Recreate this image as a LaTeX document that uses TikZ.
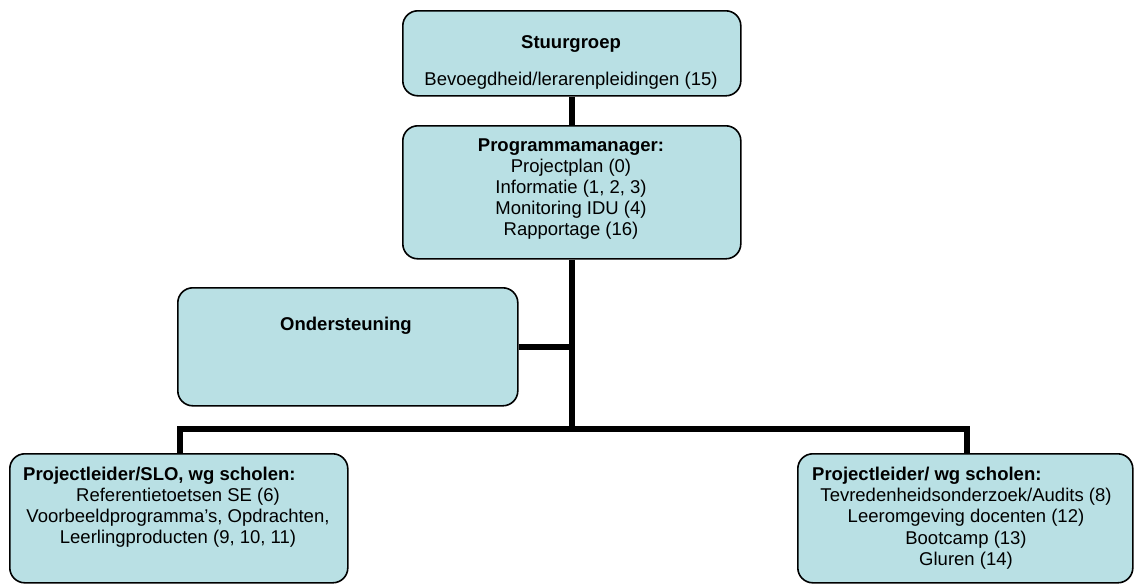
\documentclass[tikz,border=0pt]{standalone}
\usepackage{fontspec}
\setmainfont{Liberation Sans}
\definecolor{boxfill}{RGB}{185,224,228}
\tikzset{
  box/.style={draw=black, line width=1.6pt, rounded corners=15pt, fill=boxfill, inner sep=0pt, anchor=north west},
  conn/.style={line width=6pt, line join=miter},
  txt/.style={anchor=base, inner sep=0pt, font=\fontsize{18.5}{21}\selectfont},
  hd/.style={anchor=base, inner sep=0pt, font=\fontsize{18.5}{21}\selectfont\bfseries},
  hdl/.style={hd, anchor=base west}
}
\begin{document}
\begin{tikzpicture}[x=1pt,y=-1pt]
\useasboundingbox (0,0) rectangle (1134,584);
% boxes
\node[box, minimum width=338pt, minimum height=85pt] (stuur) at (402,10) {};
\node[box, minimum width=338pt, minimum height=133pt] (pm) at (402,125) {};
\node[box, minimum width=340pt, minimum height=118pt] (ond) at (177,287) {};
\node[box, minimum width=338pt, minimum height=129pt] (left) at (9,453) {};
\node[box, minimum width=335pt, minimum height=129pt] (right) at (797,453) {};
% connectors
\coordinate (busmid) at (573,429);
\coordinate (busL) at (180,429);
\coordinate (busR) at (967,429);
\draw[conn] (stuur.south) -- (pm.north);
\draw[conn] (pm.south) -- (pm.south |- busmid);
\draw[conn] (ond.east) -- (ond.east -| pm.south);
\draw[conn] (left.north -| busL) -- (busL) -- (busR) -- (right.north -| busR);
% texts
\node[hd] (t1) at (571,48) {Stuurgroep};
\node[txt] (t2) at (571,85) {Bevoegdheid/lerarenpleidingen (15)};
\node[hd] (p1) at (571,151) {Programmamanager:};
\node[txt] (p2) at (571,172) {Projectplan (0)};
\node[txt] (p3) at (571,193) {Informatie (1, 2, 3)};
\node[txt] (p4) at (571,214) {Monitoring IDU (4)};
\node[txt] (p5) at (571,235) {Rapportage (16)};
\node[hd] (o1) at (346,330) {Ondersteuning};
\node[hdl] (l1) at (23,480) {Projectleider/SLO, wg scholen:};
\node[txt] (l2) at (178,501) {Referentietoetsen SE (6)};
\node[txt] (l3) at (178,522) {Voorbeeldprogramma’s, Opdrachten,};
\node[txt] (l4) at (178,543) {Leerlingproducten (9, 10, 11)};
\node[hdl] (r1) at (812,480) {Projectleider/ wg scholen:};
\node[txt] (r2) at (966,501) {Tevredenheidsonderzoek/Audits (8)};
\node[txt] (r3) at (966,522) {Leeromgeving docenten (12)};
\node[txt] (r4) at (966,544) {Bootcamp (13)};
\node[txt] (r5) at (966,565) {Gluren (14)};
\end{tikzpicture}
\end{document}
